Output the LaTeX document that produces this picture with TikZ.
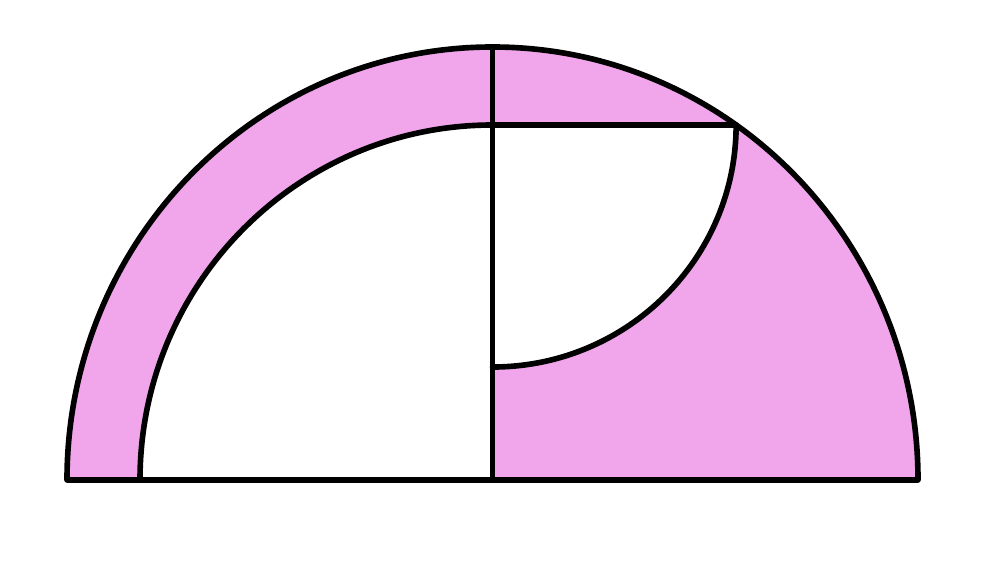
\documentclass[tikz,border=0pt]{standalone}
\definecolor{arcpink}{RGB}{241,166,236}
\tikzset{
  outline/.style={line width=1.6pt, black, line join=round, line cap=round},
  outer/.style={x radius=4.255, y radius=4.33},
  inner/.style={x radius=3.525, y radius=3.55},
  small/.style={x radius=2.436, y radius=2.42}
}
\begin{document}
\begin{tikzpicture}
        \useasboundingbox (-4.925,-0.83) rectangle (5.075,4.80);

        \coordinate (O) at (0,0); % centre
        \coordinate (T) at (0,4.33); % top
        \coordinate (M) at (0,3.55); % top of inner arc
        \coordinate (P) at (55.07:4.255 and 4.33); % meets outer arc
        \coordinate (Q) at (0,1.13); % foot of small arc

        % pink parts
        \fill[arcpink] (-4.255,0) arc[start angle=180, end angle=90, outer] -- (M)
            arc[start angle=90, end angle=180, inner] -- cycle;
        \fill[arcpink] (M) -- (P) arc[start angle=55.07, end angle=90, outer] -- cycle;
        \fill[arcpink] (P) arc[start angle=55.07, end angle=0, outer] -- (O) -- (Q)
            arc[start angle=270, end angle=360, small] -- cycle;

        % outlines
        \draw[outline] (-4.255,0) arc[start angle=180, end angle=0, outer] -- cycle;
        \draw[outline] (O) -- (T);
        \draw[outline] (-3.525,0) arc[start angle=180, end angle=90, inner] -- (P);
        \draw[outline] (P) arc[start angle=0, end angle=-90, small];

\end{tikzpicture}
\end{document}
